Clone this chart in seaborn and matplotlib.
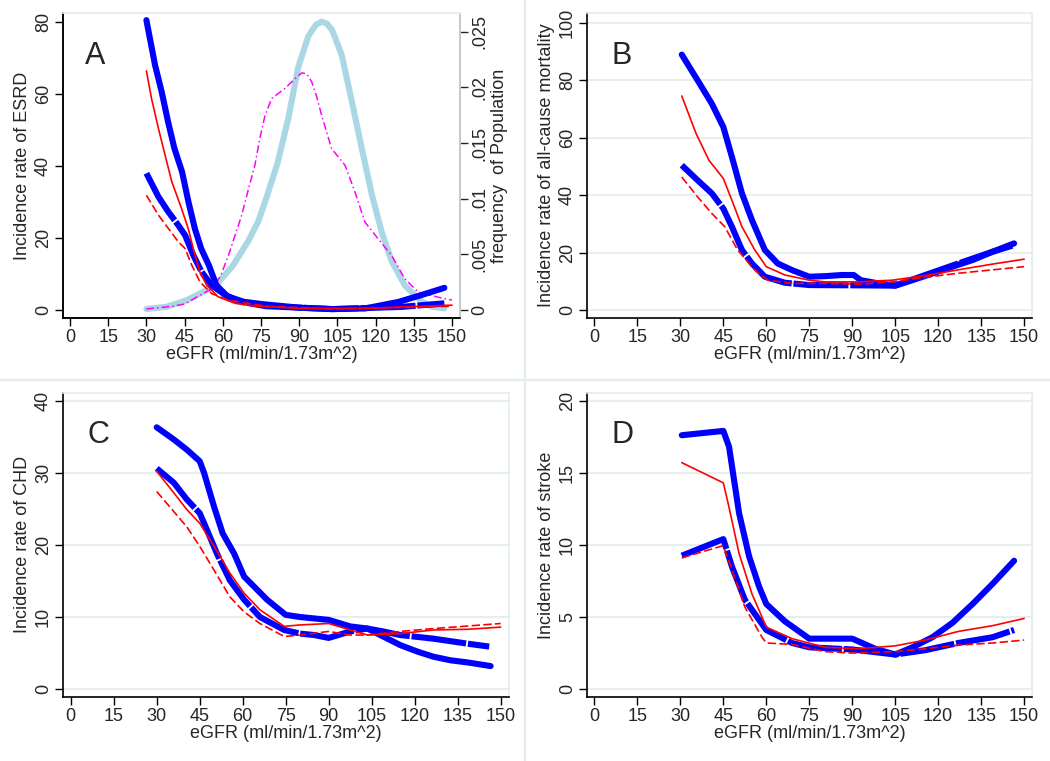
import matplotlib
matplotlib.use("Agg")
import matplotlib.pyplot as plt
from matplotlib.lines import Line2D
from matplotlib.ticker import FuncFormatter
import seaborn as sns

# ---- data (eGFR on x) ----
# A: ESRD
a_blue1_x = [30, 33.4, 36, 38.5, 41, 44, 46.5, 49, 51.5, 54.5, 57.5, 62, 68.5, 76.5, 90, 103,
             116, 129, 138, 147]
a_blue1_y = [80.5, 68, 60.6, 52.3, 44.9, 38.4, 30.1, 22.7, 17.1, 12.5, 6.9, 3.7, 2.3, 1.6, 0.7,
             0.3, 0.5, 2.3, 4.2, 6.2]
a_blue2_x = [30, 34.7, 38.6, 42.5, 45.2, 48.4, 51.7, 55.6, 61, 67.4, 77, 103, 130, 147]
a_blue2_y = [38, 31.5, 27.3, 23.6, 20.8, 15.3, 10.6, 6.9, 4.2, 2.3, 1.1, 0.3, 0.9, 1.9]
a_red1_x = [30, 32, 34.7, 37.3, 40, 43.8, 46.4, 48.4, 51, 53.7, 58.2, 64.8, 72, 90, 116, 150]
a_red1_y = [66.4, 58.8, 50.5, 43.1, 35.6, 28.2, 22.7, 17.1, 10.6, 6.9, 3.7, 1.9, 1.2, 0.5, 0.5, 1.4]
a_red2_x = [30, 34.7, 38.6, 42.5, 45.2, 47.8, 51, 55.6, 62.2, 77, 103, 150]
a_red2_y = [31.9, 26.4, 22.7, 19, 17.1, 12.5, 7.9, 4.6, 2.8, 1.1, 0.3, 1.1]

# population frequency (right axis of A)
freq1_x = [30, 38, 46, 52, 57.6, 64, 70, 74, 77, 81.5, 85.7, 89.6, 93.6, 96.5, 98.8, 101, 103,
           106.7, 110.6, 114.5, 118.5, 122.4, 126.3, 131.5, 138, 142, 147]
freq1_y = [0.0001, 0.0003, 0.0009, 0.0016, 0.0023, 0.0040, 0.0062, 0.0080, 0.0100, 0.0132,
           0.0172, 0.0218, 0.0246, 0.0256, 0.0259, 0.0257, 0.0251, 0.0229, 0.0188, 0.0146,
           0.0104, 0.0070, 0.0044, 0.0022, 0.0008, 0.0003, 0.00015]
freq2_x = [30, 40.5, 45.2, 50, 55.6, 59, 62.2, 64.5, 67.4, 70, 72.6, 74.6, 76.6, 79.2, 84.4,
           88, 91, 93, 94.9, 96.8, 98.8, 102.7, 108, 111.9, 115.8, 121, 126.3, 131.5, 136.8,
           142, 146.5, 150]
freq2_y = [0.0001, 0.00035, 0.00055, 0.0012, 0.0019, 0.003, 0.0049, 0.0065, 0.0085, 0.0108,
           0.013, 0.0155, 0.0175, 0.019, 0.0199, 0.0207, 0.0213, 0.0212, 0.0205, 0.0192,
           0.0175, 0.0145, 0.013, 0.0106, 0.0079, 0.0064, 0.0049, 0.0028, 0.0016, 0.0013,
           0.00105, 0.0009]

# B: all-cause mortality
b_blue1_x = [30.5, 36, 41, 45, 48, 51.5, 55, 59.5, 64, 69, 75, 80.5, 86.5, 90.5, 93, 99,
             105, 111, 118, 125, 132, 139, 146.5]
b_blue1_y = [88.9, 80, 71.8, 63.7, 53.3, 40.6, 31.3, 20.9, 16.2, 13.9, 11.6, 11.8, 12.2,
             12.2, 10.4, 9.3, 8.5, 10.4, 12.7, 15.1, 17.4, 20.3, 23.2]
b_blue2_x = [30.5, 36, 41, 45, 48, 51.5, 55, 59.5, 66.5, 75, 92, 105, 115.5, 127, 139, 146.5]
b_blue2_y = [50.4, 45.2, 40.6, 35.3, 29, 20.9, 16.2, 11.6, 9.5, 8.7, 8.6, 8.5, 12.2, 16.2,
             20.3, 22.6]
b_red1_x = [30.5, 35.5, 40, 45, 48, 51.5, 56, 60, 66.5, 75, 80.5, 92, 104, 115.5, 127, 139, 150]
b_red1_y = [74.5, 61.4, 52.1, 45.8, 38.2, 29, 20.9, 15.1, 12.2, 10.4, 9.8, 9.8, 10.4, 12.0,
            14.0, 16.0, 17.7]
b_red2_x = [30.5, 36, 41, 45.5, 50, 56, 60.5, 69, 80.5, 92, 104, 115.5, 127, 139, 150]
b_red2_y = [46.3, 39.4, 33.6, 29, 20.9, 13.9, 10.4, 9.3, 9.3, 9.0, 9.8, 11.4, 12.8, 14.0, 15.1]

# C: CHD
c_blue1_x = [30, 36, 40.5, 45, 46.5, 50, 53, 57, 60.5, 64, 68.5, 75, 80, 90, 97.5, 103.5,
             109, 115, 121, 126.5, 132.5, 138.5, 146.5]
c_blue1_y = [36.3, 34.6, 33.2, 31.6, 30, 25.3, 21.6, 18.8, 15.6, 14.2, 12.4, 10.3, 10, 9.6,
             8.7, 8.4, 7.3, 6.1, 5.2, 4.5, 4.0, 3.7, 3.2]
c_blue2_x = [30, 36, 40.5, 45, 47.5, 51, 55.5, 60.5, 66, 74.5, 80, 85, 90, 97.5, 103.5, 109,
             115, 126.5, 138.5, 146]
c_blue2_y = [30.6, 28.6, 26.3, 24.4, 22.1, 18.8, 15.1, 12.4, 10, 8.2, 7.7, 7.5, 7.1, 8.0,
             8.4, 8.0, 7.5, 7.0, 6.3, 5.9]
c_red1_x = [30, 36, 40.5, 45, 50, 55.5, 60.5, 66, 74.5, 80, 90, 97.5, 103.5, 115, 126.5, 138.5, 150]
c_red1_y = [30.2, 27.2, 24.9, 23, 19.8, 16.1, 13.3, 11, 8.7, 8.9, 9.1, 8.2, 7.5, 7.7, 8.2, 8.3, 8.6]
c_red2_x = [30, 36, 40.5, 45, 50, 55.5, 60.5, 66, 74.5, 80, 90, 97.5, 103.5, 115, 126.5, 138.5, 150]
c_red2_y = [27.4, 24.6, 22.5, 19.8, 16.5, 12.8, 10.7, 9.1, 7.3, 7.5, 8.0, 7.5, 7.5, 8.0, 8.4, 8.75, 9.1]

# D: stroke
d_blue1_x = [30.5, 45, 47, 50.5, 54, 57.5, 60, 66.5, 75, 90, 98, 105, 111, 118, 125, 132, 139, 146.5]
d_blue1_y = [17.6, 17.9, 16.8, 12.2, 9.2, 7.1, 5.9, 4.7, 3.5, 3.5, 2.8, 2.4, 2.9, 3.6, 4.6,
             5.9, 7.3, 8.9]
d_blue2_x = [30.5, 45, 48, 52.5, 60, 69, 75, 90, 105, 115.5, 127, 139, 146.5]
d_blue2_y = [9.25, 10.4, 8.5, 6.2, 4.1, 3.2, 2.9, 2.75, 2.4, 2.7, 3.2, 3.6, 4.1]
d_red1_x = [30.5, 45, 47, 50.5, 55, 58.5, 60, 69, 80.5, 92, 105, 115.5, 127, 139, 150]
d_red1_y = [15.7, 14.3, 12.6, 9.4, 6.6, 5.0, 4.3, 3.5, 2.9, 2.8, 3.0, 3.4, 4.0, 4.4, 4.9]
d_red2_x = [30.5, 45, 48, 52.5, 58.5, 60, 69, 80.5, 90, 105, 115.5, 127, 139, 150]
d_red2_y = [9.1, 9.95, 8.3, 5.7, 3.6, 3.2, 3.1, 2.6, 2.5, 2.6, 2.8, 3.05, 3.2, 3.4]

x_ticks = list(range(0, 151, 15))
xlabel = "eGFR (ml/min/1.73m^2)"

sns.set_theme(style="white")
plt.rcParams["font.family"] = ["Liberation Sans", "DejaVu Sans"]
plt.rcParams["font.size"] = 13

fig = plt.figure(figsize=(10.5, 7.61), dpi=100)
fig.patch.set_facecolor("white")

frame_col = "#e3ecee"
grid_col = "#e6eef0"


def panel(rect, letter, ylabel, yticks, ylim, xlim, lines, grid=True):
    ax = fig.add_axes(rect)
    bx1, by1, bx2, by2, rx1, ry1, rx2, ry2 = lines
    # thick blue (solid and broken), thin red (solid and dashed)
    sns.lineplot(x=bx1, y=by1, ax=ax, color="#0000ff", linewidth=4.4,
                 solid_capstyle="round", solid_joinstyle="round", zorder=3)
    sns.lineplot(x=bx2, y=by2, ax=ax, color="#0000ff", linewidth=4.4,
                 linestyle=(0, (9, 0.3)), dash_joinstyle="round", zorder=3)
    sns.lineplot(x=rx1, y=ry1, ax=ax, color="#ff0000", linewidth=1.2, zorder=4)
    sns.lineplot(x=rx2, y=ry2, ax=ax, color="#ff0000", linewidth=1.2,
                 linestyle=(0, (5, 2)), zorder=4)
    ax.set_xlim(*xlim)
    ax.set_ylim(*ylim)
    ax.set_xticks(x_ticks)
    ax.set_yticks(yticks)
    ax.set_xlabel(xlabel, fontsize=13, labelpad=0)
    ax.set_ylabel(ylabel, fontsize=13, labelpad=3)
    ax.tick_params(axis="both", direction="out", length=6, width=1, color="black",
                   labelsize=13, pad=2, bottom=True, left=True)
    for t in ax.get_yticklabels():
        t.set_rotation(90)
        t.set_va("center")
    if grid:
        ax.grid(axis="y", color=grid_col, linewidth=1.5)
        ax.set_axisbelow(True)
    else:
        ax.grid(False)
    for s in ["left", "bottom"]:
        ax.spines[s].set_color("black")
        ax.spines[s].set_linewidth(1.2)
    for s in ["top", "right"]:
        ax.spines[s].set_color(frame_col)
        ax.spines[s].set_linewidth(1.2)
    ax.text(0.055, 0.86, letter, transform=ax.transAxes, fontsize=22,
            ha="left", va="center")
    return ax


ax_a = panel([0.060, 0.582, 0.378, 0.401], "A", "Incidence rate of ESRD",
             [0, 20, 40, 60, 80], (-2.2, 82.5), (-2.75, 153.1),
             [a_blue1_x, a_blue1_y, a_blue2_x, a_blue2_y,
              a_red1_x, a_red1_y, a_red2_x, a_red2_y], grid=False)
ax_b = panel([0.559, 0.582, 0.424, 0.401], "B", "Incidence rate of all-cause mortality",
             [0, 20, 40, 60, 80, 100], (-2.8, 103.4), (-2.6, 152.8),
             [b_blue1_x, b_blue1_y, b_blue2_x, b_blue2_y,
              b_red1_x, b_red1_y, b_red2_x, b_red2_y])
ax_c = panel([0.060, 0.084, 0.425, 0.400], "C", "Incidence rate of CHD",
             [0, 10, 20, 30, 40], (-1.1, 41.1), (-2.7, 153.0),
             [c_blue1_x, c_blue1_y, c_blue2_x, c_blue2_y,
              c_red1_x, c_red1_y, c_red2_x, c_red2_y])
ax_d = panel([0.559, 0.084, 0.424, 0.400], "D", "Incidence rate of stroke",
             [0, 5, 10, 15, 20], (-0.55, 20.55), (-2.6, 152.8),
             [d_blue1_x, d_blue1_y, d_blue2_x, d_blue2_y,
              d_red1_x, d_red1_y, d_red2_x, d_red2_y])

# right axis of A: distribution of the population
ax_f = ax_a.twinx()
sns.lineplot(x=freq1_x, y=freq1_y, ax=ax_f, color="#a9d7e3", linewidth=4.4,
             solid_joinstyle="round")
sns.lineplot(x=freq2_x, y=freq2_y, ax=ax_f, color="#ff00ff", linewidth=1.1,
             linestyle=(0, (5, 2, 1, 2)))
ax_f.set_ylim(-0.00072, 0.02668)
ax_f.set_yticks([0, 0.005, 0.01, 0.015, 0.02, 0.025])
ax_f.yaxis.set_major_formatter(FuncFormatter(
    lambda v, p: "0" if v == 0 else ("%g" % v).lstrip("0")))
ax_f.set_ylabel("frequency  of Population", fontsize=13, labelpad=2)
ax_f.yaxis.label.set_rotation(90)
ax_f.tick_params(axis="y", direction="out", length=6, width=1, labelsize=13, pad=2, right=True)
for t in ax_f.get_yticklabels():
    t.set_rotation(90)
    t.set_va("center")
ax_f.grid(False)
ax_f.spines["right"].set_color("black")
ax_f.spines["right"].set_linewidth(1.2)
ax_f.spines["top"].set_color(frame_col)
ax_a.set_zorder(ax_f.get_zorder() + 1)
ax_a.patch.set_visible(False)

# light frames between the four panels
fig.add_artist(Line2D([0.5, 0.5], [0, 1], color=frame_col, linewidth=1.6))
fig.add_artist(Line2D([0, 1], [0.5007, 0.5007], color=frame_col, linewidth=1.6))

fig.savefig("out.png", dpi=100, facecolor="white")
